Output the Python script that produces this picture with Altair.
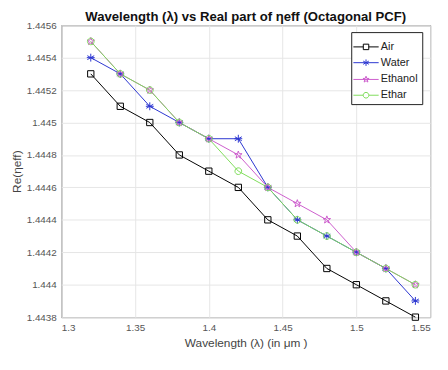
import altair as alt
import pandas as pd

wavelength = [1.32, 1.34, 1.36, 1.38, 1.40, 1.42, 1.44, 1.46, 1.48, 1.50, 1.52, 1.54]
air =     [1.4453, 1.4451, 1.4450, 1.4448, 1.4447, 1.4446, 1.4444, 1.4443, 1.4441, 1.4440, 1.4439, 1.4438]
water =   [1.4454, 1.4453, 1.4451, 1.4450, 1.4449, 1.4449, 1.4446, 1.4444, 1.4443, 1.4442, 1.4441, 1.4439]
ethanol = [1.4455, 1.4453, 1.4452, 1.4450, 1.4449, 1.4448, 1.4446, 1.4445, 1.4444, 1.4442, 1.4441, 1.4440]
ethar =   [1.4455, 1.4453, 1.4452, 1.4450, 1.4449, 1.4447, 1.4446, 1.4444, 1.4443, 1.4442, 1.4441, 1.4440]

series_names = ["Air", "Water", "Ethanol", "Ethar"]
series_values = [air, water, ethanol, ethar]
colors = ["#000000", "#2b35d0", "#cc5ccc", "#7fdc5a"]

x_ticks = [1.3, 1.35, 1.4, 1.45, 1.5, 1.55]
y_ticks = [1.4438, 1.444, 1.4442, 1.4444, 1.4446, 1.4448, 1.445, 1.4452, 1.4454, 1.4456]

rows = []
for name, vals in zip(series_names, series_values):
    for w, v in zip(wavelength, vals):
        rows.append({"wl": w, "neff": v, "series": name})
df = pd.DataFrame(rows)

# marker shapes (unit paths)
sq = "M-0.8,-0.8H0.8V0.8H-0.8Z"
ast = "M0,-1V1M-0.87,-0.5L0.87,0.5M-0.87,0.5L0.87,-0.5M-1,0H1"
star = ("M0,-1L0.235,-0.324L0.951,-0.309L0.38,0.124L0.588,0.809L0,0.4"
        "L-0.588,0.809L-0.38,0.124L-0.951,-0.309L-0.235,-0.324Z")
circ = "M-0.85,0A0.85,0.85 0 1,0 0.85,0A0.85,0.85 0 1,0 -0.85,0Z"
marker_paths = [sq, ast, star, circ]

leg_paths = [
    "M-1.25,0H-0.27M0.27,0H1.25M-0.27,-0.27H0.27V0.27H-0.27Z",
    "M-1.25,0H1.25M0,-0.32V0.32M-0.28,-0.16L0.28,0.16M-0.28,0.16L0.28,-0.16",
    "M-1.25,0H1.25" + ("M0,-0.32L0.075,-0.104L0.304,-0.099L0.122,0.04L0.188,0.259L0,0.128"
                       "L-0.188,0.259L-0.122,0.04L-0.304,-0.099L-0.075,-0.104Z"),
    "M-1.25,0H-0.28M0.28,0H1.25M-0.28,0A0.28,0.28 0 1,0 0.28,0A0.28,0.28 0 1,0 -0.28,0Z",
]

leg = alt.Legend(title=None, orient="none", legendX=294, legendY=7,
                 symbolOpacity=1, symbolSize=420,
                 symbolStrokeWidth=1, symbolFillColor="transparent",
                 labelFontSize=11, labelColor="#222", labelFont="Liberation Sans",
                 labelExpr="datum.label + '\u00a0\u00a0\u00a0'",
                 rowPadding=0, padding=4, strokeColor="#222",
                 fillColor="white", labelOffset=4)

xs = alt.X("wl:Q", title="Wavelength (λ) (in μm )",
           scale=alt.Scale(domain=[1.3, 1.55], nice=False, zero=False),
           axis=alt.Axis(values=x_ticks, format=".2~f", labelPadding=6, titlePadding=5))
ys = alt.Y("neff:Q", title="Re(ηeff)",
           scale=alt.Scale(domain=[1.4438, 1.4456], nice=False, zero=False),
           axis=alt.Axis(values=y_ticks, format=".4~f", labelPadding=5, titlePadding=3))
col = alt.Color("series:N", scale=alt.Scale(domain=series_names, range=colors), legend=None)

base = alt.Chart(df)
lines = base.mark_line(strokeWidth=1).encode(x=xs, y=ys, color=col, detail="series:N")
points = base.mark_point(size=64, strokeWidth=1, filled=False, opacity=1).encode(
    x=xs, y=ys, color=col,
    shape=alt.Shape("series:N", scale=alt.Scale(domain=series_names, range=marker_paths), legend=None),
)
legend_layer = base.mark_point(size=420, strokeWidth=1, filled=False, opacity=0).encode(
    x=xs, y=ys,
    stroke=alt.Stroke("series:N", scale=alt.Scale(domain=series_names, range=colors), legend=leg),
    shape=alt.Shape("series:N", scale=alt.Scale(domain=series_names, range=leg_paths), legend=leg),
)

chart = alt.layer(lines, points, legend_layer).resolve_scale(
    shape="independent", stroke="independent", color="shared"
).properties(
    width=374, height=296,
    title=alt.Title("Wavelength (λ) vs Real part of ηeff (Octagonal PCF)", fontSize=13.3,
                    font="Liberation Sans", fontWeight="bold", color="#111", offset=-3, frame="group"),
    autosize=alt.AutoSizeParams(type="none"),
    padding={"left": 54, "top": 15, "right": 10, "bottom": 40},
).configure_view(stroke="#333", strokeWidth=1).configure_axis(
    grid=True, gridColor="#e6e6e6", domain=False, ticks=False,
    labelFont="Liberation Sans", labelFontSize=10, labelColor="#555",
    titleFont="Liberation Sans", titleFontSize=12, titleColor="#444", titleFontWeight="normal",
)

chart.save("out.html", embed_options={"renderer": "svg", "actions": False})
